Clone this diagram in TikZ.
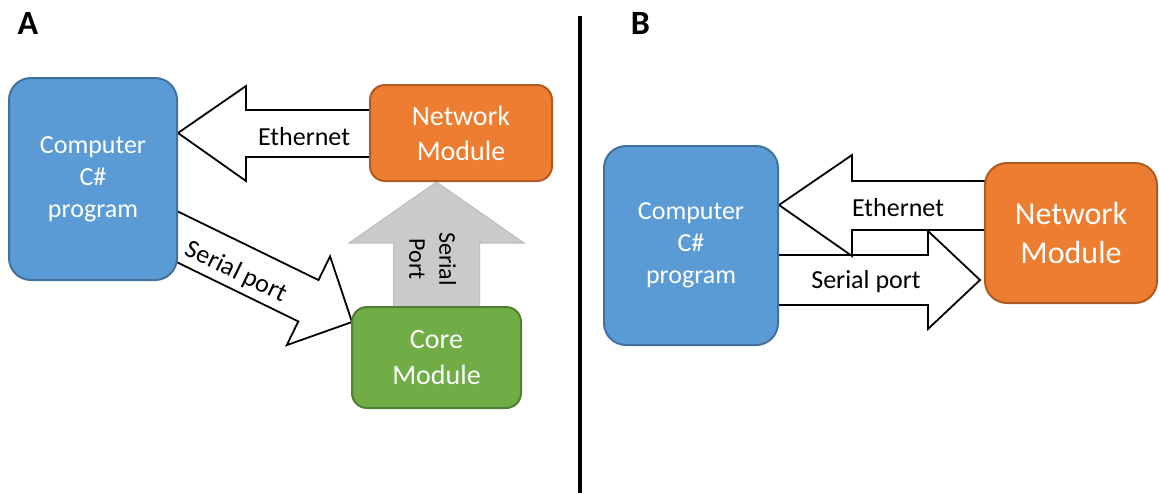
\documentclass[tikz,border=0pt]{standalone}
\usepackage{fontspec}
\setmainfont{Carlito}
\usetikzlibrary{calc}
\definecolor{cblue}{HTML}{5B9BD5}
\definecolor{bblue}{HTML}{41719C}
\definecolor{corange}{HTML}{ED7D31}
\definecolor{borange}{HTML}{AE5A21}
\definecolor{cgreen}{HTML}{70AD47}
\definecolor{bgreen}{HTML}{507E32}
\definecolor{cgray}{HTML}{CACACA}
\definecolor{bgray}{HTML}{BDBDBD}
\pgfdeclarelayer{back}
\pgfdeclarelayer{bg}
\pgfsetlayers{back,bg,main}
\tikzset{
  box/.style={draw, line width=2pt, text=white, align=center, inner sep=0pt},
  blockarrow/.style={draw=black, fill=white, line width=1.8pt, line join=miter},
  grayarrow/.style={draw=bgray, fill=cgray, line width=1pt, line join=miter},
  lbl/.style={font=\fontsize{26}{31}\selectfont, inner sep=0pt, align=center},
  panel/.style={font=\fontsize{34}{40}\selectfont\bfseries, inner sep=0pt},
}
\begin{document}
\begin{tikzpicture}[x=1pt,y=-1pt]
\useasboundingbox (0,0) rectangle (1159,493);
\begin{pgfonlayer}{back}
\fill[white] (0,0) rectangle (1159,493);
\end{pgfonlayer}

% panel letters and divider
\node[panel] (la) at (28,23.5) {A};
\node[panel] (lb) at (640.5,23.5) {B};
\coordinate (dtop) at (579.5,16);
\coordinate (dbot) at (579.5,493);
\draw[line width=4pt] (dtop) -- (dbot);

% ---- Panel A boxes
\node[box, fill=cblue, draw=bblue, rounded corners=22pt, minimum width=168pt, minimum height=202pt,
      font=\fontsize{26}{32}\selectfont] (compA) at (93,179) {Computer\\C\#\\program};
\node[box, fill=corange, draw=borange, rounded corners=15pt, minimum width=182pt, minimum height=96pt,
      font=\fontsize{28}{35}\selectfont] (netA) at (461,133) {Network\\Module};
\node[box, fill=cgreen, draw=bgreen, rounded corners=15pt, minimum width=169pt, minimum height=101pt,
      font=\fontsize{28}{36}\selectfont] (core) at (436.5,357.5) {Core\\Module};

% ---- Panel B boxes
\node[box, fill=cblue, draw=bblue, rounded corners=22pt, minimum width=174pt, minimum height=199pt,
      font=\fontsize{26}{32}\selectfont] (compB) at (691,245.5) {Computer\\C\#\\program};
\node[box, fill=corange, draw=borange, rounded corners=22pt, minimum width=172pt, minimum height=140pt,
      font=\fontsize{32}{39}\selectfont] (netB) at (1071,233) {Network\\Module};

\begin{pgfonlayer}{bg}
  % Ethernet arrow A
  \coordinate (eAt) at (compA.east |- netA.west);
  \draw[blockarrow] (eAt) -- ++(68,-47) -- ++(0,24) -- ++(134,0) -- ++(0,47) -- ++(-134,0) -- ++(0,24) -- cycle;
  \node[lbl] (ethA) at (304,137) {Ethernet};

  % Gray serial port arrow A
  \coordinate (gT) at (core.north |- netA.south);
  \draw[grayarrow] (gT) -- ++(87.5,61) -- ++(-44.5,0) -- ++(0,80) -- ++(-86,0) -- ++(0,-80) -- ++(-44.5,0) -- cycle;
  \node[lbl, font=\fontsize{24}{30}\selectfont, rotate=-90] (spA) at (432.5,259) {Serial\\Port};

  % Serial port arrow A (diagonal)
  \coordinate (sAt) at ($(core.north west)+(1,16)$);
  \begin{scope}[shift={(sAt)}, rotate=-26]
    \draw[blockarrow] (0,0) -- (-48.5,-49.4) -- (-48.5,-23) -- (-230,-23) -- (-230,23) -- (-48.5,23) -- (-48.5,49.4) -- cycle;
    \node[lbl, rotate=-26] (serA) at (-126,6) {Serial port};
  \end{scope}

  % Serial port arrow B
  \coordinate (sBt) at ($(netB.west |- 0,280)+(-4,0)$);
  \draw[blockarrow] (sBt) -- ++(-52,-49) -- ++(0,24) -- ++(-157,0) -- ++(0,50) -- ++(157,0) -- ++(0,24) -- cycle;
  \node[lbl] (serB) at (866,282) {Serial port};

  % Ethernet arrow B
  \coordinate (eBt) at (compB.east |- 0,205);
  \draw[blockarrow] (eBt) -- ++(73,-50) -- ++(0,26) -- ++(150,0) -- ++(0,49) -- ++(-150,0) -- ++(0,26) -- cycle;
  \node[lbl] (ethB) at (898,208) {Ethernet};
\end{pgfonlayer}
\end{tikzpicture}
\end{document}
